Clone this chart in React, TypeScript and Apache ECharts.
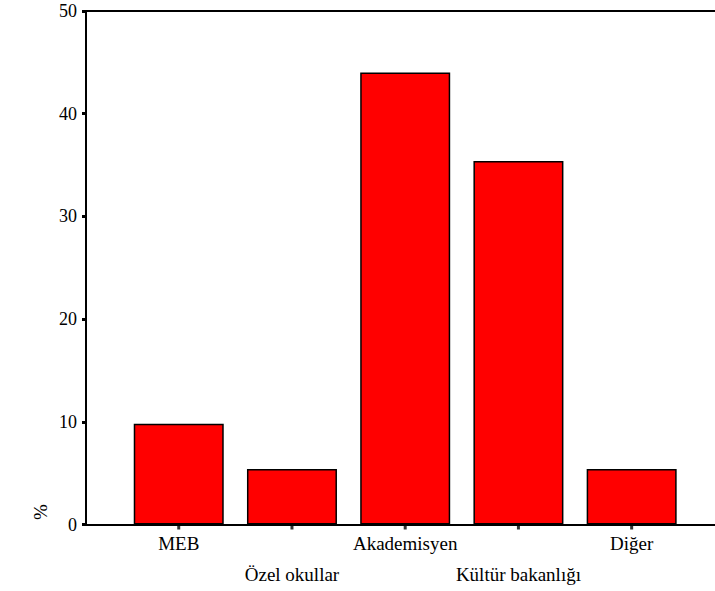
import React, { useEffect, useRef } from "react";
import * as echarts from "echarts";

const categories = ["MEB", "Özel okullar", "Akademisyen", "Kültür bakanlığı", "Diğer"];
const percentages = [9.8, 5.4, 44.0, 35.4, 5.4];
const yTickValues = [0, 10, 20, 30, 40, 50];
const yAxisTitle = "%";

export default function App() {
  const ref = useRef<HTMLDivElement>(null);
  useEffect(() => {
    const chart = echarts.init(ref.current!, null, { renderer: "svg" });
    const font = "Liberation Serif";
    const positions = categories.map((_, i) => i);
    const row1 = positions.filter((i) => i % 2 === 0);
    const row2 = positions.filter((i) => i % 2 === 1);
    const xMin = -0.819;
    const xMax = 4.736;
    const labelStyle = { color: "#000", fontFamily: font, fontSize: 19 };
    const lineStyle = { color: "#000", width: 2 };
    chart.setOption({
      animation: false,
      textStyle: { fontFamily: font },
      grid: { left: 86, right: 0, top: 11, bottom: 66.5, containLabel: false },
      xAxis: [
        {
          type: "value",
          position: "bottom",
          min: xMin,
          max: xMax,
          splitLine: { show: false },
          axisLine: { show: true, onZero: false, lineStyle },
          axisTick: { show: false },
          axisLabel: {
            customValues: row1,
            formatter: (v: number) => categories[Math.round(v)],
            margin: 9,
            ...labelStyle,
          },
        },
        {
          type: "value",
          position: "bottom",
          min: xMin,
          max: xMax,
          splitLine: { show: false },
          axisLine: { show: false },
          axisTick: { show: false },
          axisLabel: {
            customValues: row2,
            formatter: (v: number) => categories[Math.round(v)],
            margin: 40,
            ...labelStyle,
          },
        },
        {
          type: "value",
          position: "top",
          min: xMin,
          max: xMax,
          splitLine: { show: false },
          axisLine: { show: true, onZero: false, lineStyle },
          axisTick: { show: false },
          axisLabel: { show: false },
        },
      ],
      yAxis: {
        type: "value",
        min: yTickValues[0],
        max: yTickValues[yTickValues.length - 1],
        interval: 10,
        splitLine: { show: false },
        axisLine: { show: true, onZero: false, lineStyle },
        axisTick: { show: true, length: 4, lineStyle: { color: "#000", width: 3 } },
        axisLabel: { margin: 9, ...labelStyle, fontSize: 18 },
      },
      series: [
        {
          type: "bar",
          xAxisIndex: 0,
          data: percentages.map((v, i) => [i, v]),
          barWidth: 90,
          itemStyle: { color: "#ff0000", borderColor: "#000", borderWidth: 1.5 },
        },
        {
          type: "scatter",
          xAxisIndex: 0,
          data: positions.map((i) => [i, 0]),
          symbol: "rect",
          symbolSize: [3, 4],
          symbolOffset: [0, 3],
          clip: false,
          silent: true,
          itemStyle: { color: "#000" },
          z: 5,
        },
      ],
      graphic: [
        {
          type: "text",
          x: 40,
          y: 512,
          rotation: Math.PI / 2,
          style: {
            text: yAxisTitle,
            fill: "#000",
            fontFamily: font,
            fontSize: 19,
            align: "center",
            verticalAlign: "middle",
          },
        },
      ],
    });
    return () => chart.dispose();
  }, []);
  return (
    <div
      ref={ref}
      style={{ position: "fixed", left: 0, top: 0, width: 715, height: 591, background: "#fff" }}
    />
  );
}
